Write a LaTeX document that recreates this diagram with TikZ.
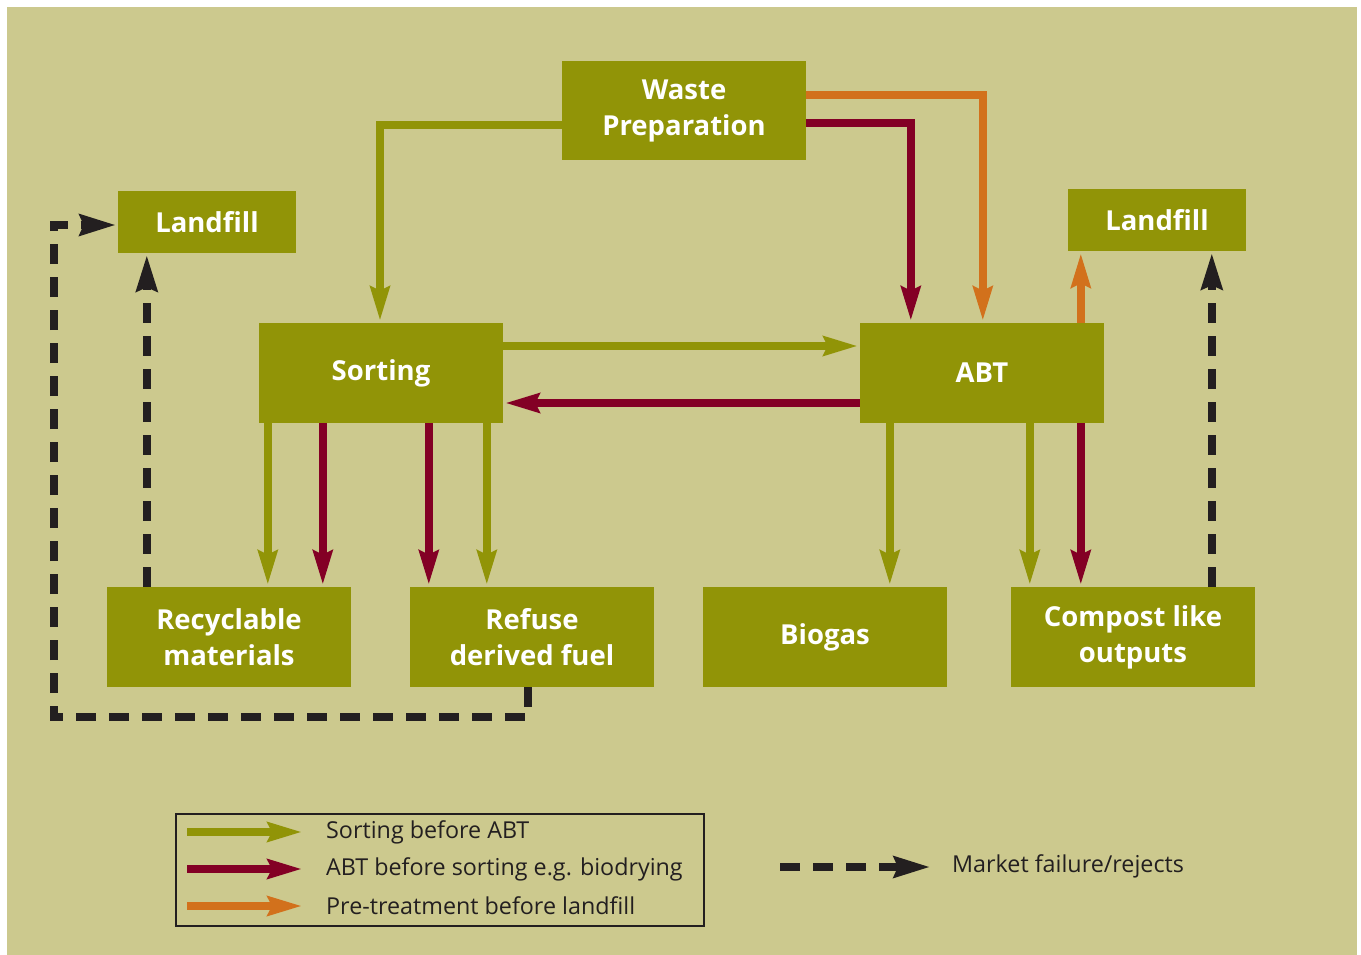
\documentclass[tikz,border=0pt]{standalone}
\usepackage{fontspec}
\setmainfont{Open Sans}
\usetikzlibrary{arrows.meta,calc}
\definecolor{bgc}{HTML}{CCC98E}
\definecolor{boxc}{HTML}{919407}
\definecolor{redc}{HTML}{830025}
\definecolor{orc}{HTML}{D2711C}
\definecolor{blk}{HTML}{231F20}
\begin{document}
\begin{tikzpicture}[x=1pt,y=-1pt,
  box/.style={fill=boxc, text=white, font=\fontsize{27.5}{36}\selectfont\bfseries, align=center, inner sep=0pt, minimum width=244pt, minimum height=100pt},
  lbox/.style={box, minimum width=178pt, minimum height=62pt},
  flow/.style={line width=8pt, shorten >=2pt, -{Stealth[length=34pt,width=19pt,inset=4pt]}},
  olv/.style={flow, draw=boxc},
  red/.style={flow, draw=redc},
  org/.style={flow, draw=orc},
  rej/.style={line width=7.5pt, draw=blk, dash pattern=on 20pt off 13pt, shorten >=2pt, -{Stealth[length=36pt,width=21pt,inset=4pt]}},
  legtxt/.style={anchor=west, text=blk, font=\fontsize{23.3}{27}\selectfont, inner sep=0pt}]
\useasboundingbox (0,0) rectangle (1361,955);
\fill[white] (0,0) rectangle (1361,955);
\fill[bgc] (7,7) rectangle (1357,955);

\node[box, minimum height=99pt] (waste) at (684,110.5) {Waste\\Preparation};
\node[lbox] (landL) at (207,222) {Landfill};
\node[lbox] (landR) at (1157,220) {Landfill};
\node[box] (sort) at (381,373) {Sorting};
\node[box] (abt) at (982,373) {ABT};
\node[box] (rec) at (229,637) {Recyclable\\materials};
\node[box] (ref) at (532,637) {Refuse\\derived fuel};
\node[box] (bio) at (825,637) {Biogas};
\node[box] (comp) at (1133,637) {Compost like\\outputs};

% from waste preparation
\draw[olv] ($(waste.west)+(0,14.5)$) -| ($(sort.north)+(-1,0)$);
\draw[red] ($(waste.east)+(0,12.5)$) -| ($(abt.north west)+(51,0)$);
\draw[org] ($(waste.east)+(0,-15.5)$) -| ($(abt.north west)+(123,0)$);

% sorting <-> ABT
\draw[olv] ($(sort.east)+(0,-27)$) -- ($(abt.west)+(0,-27)$);
\draw[red] ($(abt.west)+(0,30)$) -- ($(sort.east)+(0,30)$);

% sorting outputs
\draw[olv] ($(sort.south west)+(9,0)$) -- ($(rec.north west)+(161,0)$);
\draw[red] ($(sort.south west)+(64,0)$) -- ($(rec.north west)+(216,0)$);
\draw[red] ($(sort.south west)+(170,0)$) -- ($(ref.north west)+(19,0)$);
\draw[olv] ($(sort.south west)+(228,0)$) -- ($(ref.north west)+(77,0)$);

% ABT outputs
\draw[olv] ($(abt.south west)+(30,0)$) -- ($(bio.north west)+(187,0)$);
\draw[olv] ($(abt.south west)+(170,0)$) -- ($(comp.north west)+(19,0)$);
\draw[red] ($(abt.south west)+(221,0)$) -- ($(comp.north west)+(70,0)$);
\draw[org] ($(abt.north west)+(221,0)$) -- ($(landR.south west)+(13,0)$);

% rejects
\draw[rej] ($(comp.north west)+(201,0)$) -- ($(landR.south west)+(144,0)$);
\draw[rej] ($(rec.north west)+(40,0)$) -- ($(landL.south west)+(29,0)$);
\draw[rej] ($(ref.south west)+(118,0)$) -- ++(0,30) -| ($(landL.west)+(-64,3)$) -- ($(landL.west)+(0,3)$);

% legend
\node[draw=blk, line width=2.5pt, minimum width=528pt, minimum height=112pt, inner sep=0pt] (legend) at (440,870) {};
\coordinate (l1a) at (187,832); \coordinate (l1b) at (304,832);
\coordinate (l2a) at (187,869); \coordinate (l2b) at (304,869);
\coordinate (l3a) at (187,906); \coordinate (l3b) at (304,906);
\draw[olv] (l1a) -- (l1b);
\draw[red] (l2a) -- (l2b);
\draw[org] (l3a) -- (l3b);
\node[legtxt] (t1) at (326,832) {Sorting before ABT};
\node[legtxt] (t2) at (326,869) {ABT before sorting e.g. biodrying};
\node[legtxt] (t3) at (326,906) {Pre-treatment before landfill};
\coordinate (m1) at (780,867); \coordinate (m2) at (932,867);
\draw[rej] (m1) -- (m2);
\node[legtxt] (t4) at (952,866) {Market failure/rejects};
\end{tikzpicture}
\end{document}
